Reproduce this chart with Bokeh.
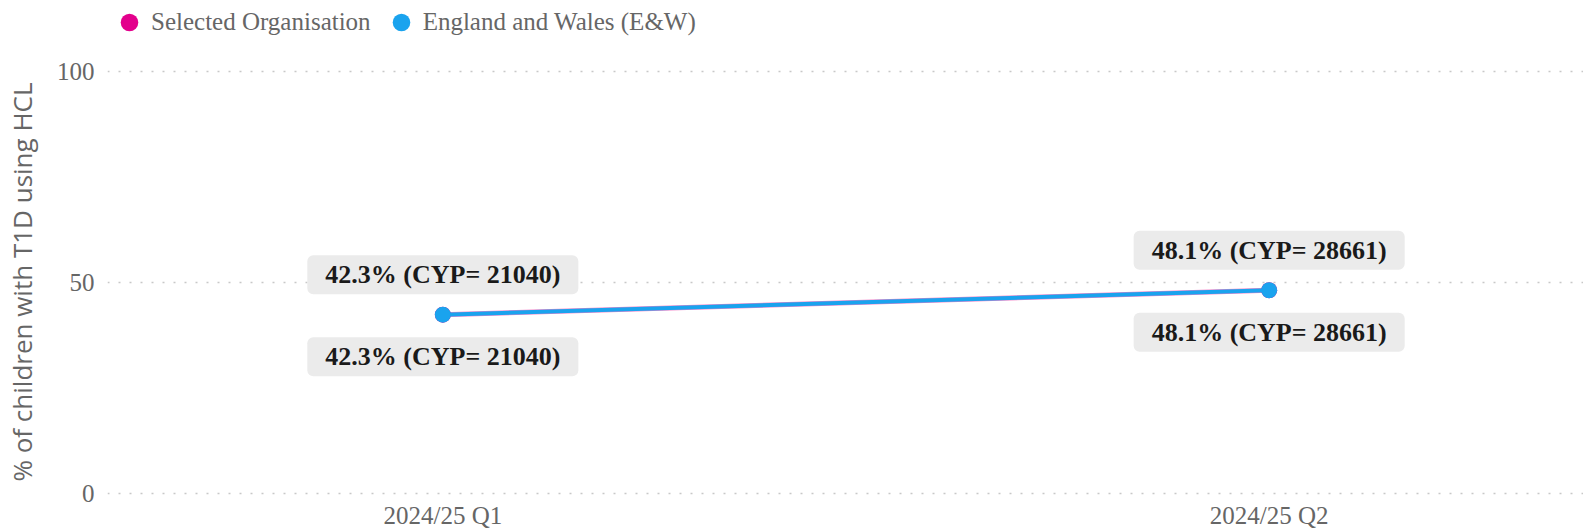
from bokeh.plotting import figure
from bokeh.layouts import column
from bokeh.models import Range1d, FixedTicker, Legend, LegendItem, ColumnDataSource
from bokeh.core.properties import value
from bokeh.embed import file_html
from bokeh.resources import INLINE

categories = ["2024/25 Q1", "2024/25 Q2"]
series_names = ["Selected Organisation", "England and Wales (E&W)"]
selected_pct = [42.3, 48.1]
selected_cyp = [21040, 28661]
ew_pct = [42.3, 48.1]
ew_cyp = [21040, 28661]
y_ticks = [0, 50, 100]

PINK = "#E3008C"
BLUE = "#1AA3EE"
SERIF = "Liberation Serif"

xs = list(range(len(categories)))

src_sel = ColumnDataSource(dict(
    x=xs, y=selected_pct,
    label=[f"{v:.1f}% (CYP= {n})" for v, n in zip(selected_pct, selected_cyp)]))
src_ew = ColumnDataSource(dict(
    x=xs, y=ew_pct,
    label=[f"{v:.1f}% (CYP= {n})" for v, n in zip(ew_pct, ew_cyp)]))

# ---- legend strip (series drawn out of view; only the legend shows) ----
LEG_H = 44
pl = figure(width=1583, height=LEG_H, output_backend="svg", toolbar_location=None,
            x_range=Range1d(0, 1), y_range=Range1d(500, 501),
            x_axis_location=None, y_axis_location=None,
            min_border=0, min_border_left=0, min_border_right=0,
            min_border_top=0, min_border_bottom=0)
pl.grid.visible = False
pl.outline_line_color = None
r_leg1 = pl.scatter("x", "y", source=src_sel, size=16, fill_color=PINK, line_color=None)
r_leg2 = pl.scatter("x", "y", source=src_ew, size=16, fill_color=BLUE, line_color=None)
legend = Legend(items=[LegendItem(label=series_names[0], renderers=[r_leg1]),
                       LegendItem(label=series_names[1], renderers=[r_leg2])],
                orientation="horizontal", location="top_left",
                label_text_font=SERIF, label_text_font_size="25px",
                label_text_color="#666666", glyph_width=44, glyph_height=44,
                spacing=8, padding=0, margin=0, label_standoff=-7,
                border_line_color=None, background_fill_alpha=0)
pl.add_layout(legend)

# ---- main chart ----
p = figure(width=1583, height=531 - LEG_H, output_backend="svg", toolbar_location=None,
           x_range=Range1d(-0.4058, 1.3804), y_range=Range1d(-1.0, 101.1),
           min_border_left=104, min_border_right=0, min_border_top=66 - LEG_H,
           min_border_bottom=33)
p.outline_line_color = None
p.background_fill_color = "white"

p.xaxis.ticker = FixedTicker(ticks=xs)
p.xaxis.major_label_overrides = {i: c for i, c in enumerate(categories)}
p.xaxis.axis_line_color = None
p.xaxis.major_tick_line_color = None
p.xaxis.major_tick_out = 0
p.xaxis.major_tick_in = 0
p.xaxis.minor_tick_line_color = None
p.xaxis.major_label_text_font = SERIF
p.xaxis.major_label_text_font_size = "25px"
p.xaxis.major_label_text_color = "#666666"
p.xaxis.major_label_standoff = 4
p.xgrid.grid_line_color = None

p.yaxis.ticker = FixedTicker(ticks=y_ticks)
p.yaxis.axis_line_color = None
p.yaxis.major_tick_line_color = None
p.yaxis.major_tick_out = 0
p.yaxis.major_tick_in = 0
p.yaxis.minor_tick_line_color = None
p.yaxis.major_label_text_font = SERIF
p.yaxis.major_label_text_font_size = "25px"
p.yaxis.major_label_text_color = "#666666"
p.yaxis.major_label_standoff = 13
p.yaxis.axis_label = "% of children with T1D using HCL"
p.yaxis.axis_label_text_font = "Open Sans"
p.yaxis.axis_label_text_font_style = "normal"
p.yaxis.axis_label_text_font_size = "26px"
p.yaxis.axis_label_text_color = "#666666"
p.yaxis.axis_label_standoff = 14
p.ygrid.grid_line_color = "#c8c8c8"
p.ygrid.grid_line_dash = "2 9"
p.ygrid.grid_line_width = 1.5

p.line("x", "y", source=src_sel, line_color=PINK, line_width=5, line_alpha=0.5)
p.scatter("x", "y", source=src_sel, size=16, fill_color=PINK, line_color=None)
p.line("x", "y", source=src_ew, line_color=BLUE, line_width=4)
p.scatter("x", "y", source=src_ew, size=16, fill_color=BLUE, line_color=None)

# padding order: left, right, top, bottom
for src, off in ((src_sel, -40), (src_ew, 42)):
    p.text("x", "y", text="label", source=src, y_offset=off,
           text_font=value(SERIF), text_font_style="bold", text_font_size="26px",
           text_color="#1a1a1a", text_align="center", text_baseline="middle",
           background_fill_color="#ebebeb", border_radius=6, padding=[18, 18, 5, 5])

layout = column(pl, p, spacing=0)
open("out.html", "w").write(file_html(layout, INLINE))
